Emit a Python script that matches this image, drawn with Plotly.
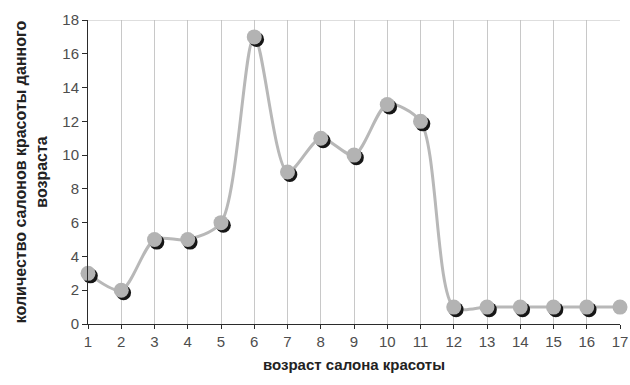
import plotly.graph_objects as go

# Salon age (years) and number of salons of that age
ages = list(range(1, 18))
counts = [3, 2, 5, 5, 6, 17, 9, 11, 10, 13, 12, 1, 1, 1, 1, 1, 1]
y_ticks = list(range(0, 19, 2))

AXIS_COLOR = "#2b2b2b"
x_range = [1, 17]
y_range = [0, 18]

fig = go.Figure()

# smoothed connecting line
fig.add_trace(go.Scatter(
    x=ages, y=counts, mode="lines",
    line=dict(color="#b8b8b8", width=3, shape="spline", smoothing=0.8),
    hoverinfo="skip", cliponaxis=False, showlegend=False,
))
# dark shadow under each marker
fig.add_trace(go.Scatter(
    x=[a + 0.07 for a in ages], y=[c - 0.15 for c in counts], mode="markers",
    marker=dict(size=15, color="#161616"),
    hoverinfo="skip", cliponaxis=False, showlegend=False,
))
# grey markers
fig.add_trace(go.Scatter(
    x=ages, y=counts, mode="markers",
    marker=dict(size=15, color="#b3b3b3"),
    cliponaxis=False, showlegend=False,
))

tick_font = dict(family="Liberation Sans, Arial, sans-serif", size=15, color="#4d4d4d")
x_title_font = dict(family="Liberation Sans, Arial, sans-serif", size=15, color="#222222")
y_title_font = dict(family="Liberation Sans, Arial, sans-serif", size=16, color="#222222")

fig.update_layout(
    width=630, height=385,
    margin=dict(l=88, r=10, t=20, b=61),
    paper_bgcolor="white", plot_bgcolor="white",
    font=dict(family="Liberation Sans, Arial, sans-serif", color="#444444", size=12),
    xaxis=dict(
        range=x_range, tickmode="array", tickvals=ages, automargin=False,
        showgrid=True, gridcolor="#c8c8c8", gridwidth=1,
        showline=True, linecolor=AXIS_COLOR, linewidth=1,
        ticks="outside", ticklen=4, tickcolor=AXIS_COLOR,
        zeroline=False, tickfont=tick_font, ticklabeloverflow="allow",
        title=dict(text="<b>возраст салона красоты</b>", standoff=10, font=x_title_font),
    ),
    # second x axis only adds the inner half of the crossing tick marks
    xaxis2=dict(
        range=x_range, overlaying="x", anchor="y", side="bottom", automargin=False,
        tickmode="array", tickvals=ages, showticklabels=False,
        ticks="inside", ticklen=4, tickcolor=AXIS_COLOR,
        showgrid=False, zeroline=False, showline=False,
    ),
    yaxis=dict(
        range=y_range, tickmode="array", tickvals=y_ticks, automargin=False,
        showgrid=False, zeroline=False,
        showline=True, linecolor=AXIS_COLOR, linewidth=1,
        ticks="outside", ticklen=5, tickcolor=AXIS_COLOR,
        tickfont=tick_font, ticklabeloverflow="allow",
        title=dict(text="<b>количество салонов красоты данного<br>возраста</b>",
                   standoff=10, font=y_title_font),
    ),
    yaxis2=dict(
        range=y_range, overlaying="y", anchor="x", side="left", automargin=False,
        tickmode="array", tickvals=y_ticks, showticklabels=False,
        ticks="inside", ticklen=5, tickcolor=AXIS_COLOR,
        showgrid=False, zeroline=False, showline=False,
    ),
    shapes=[dict(type="line", xref="paper", yref="y", x0=0, x1=1, y0=18, y1=18,
                 line=dict(color="#bdbdbd", width=1))],
)

fig.write_html("out.html")
